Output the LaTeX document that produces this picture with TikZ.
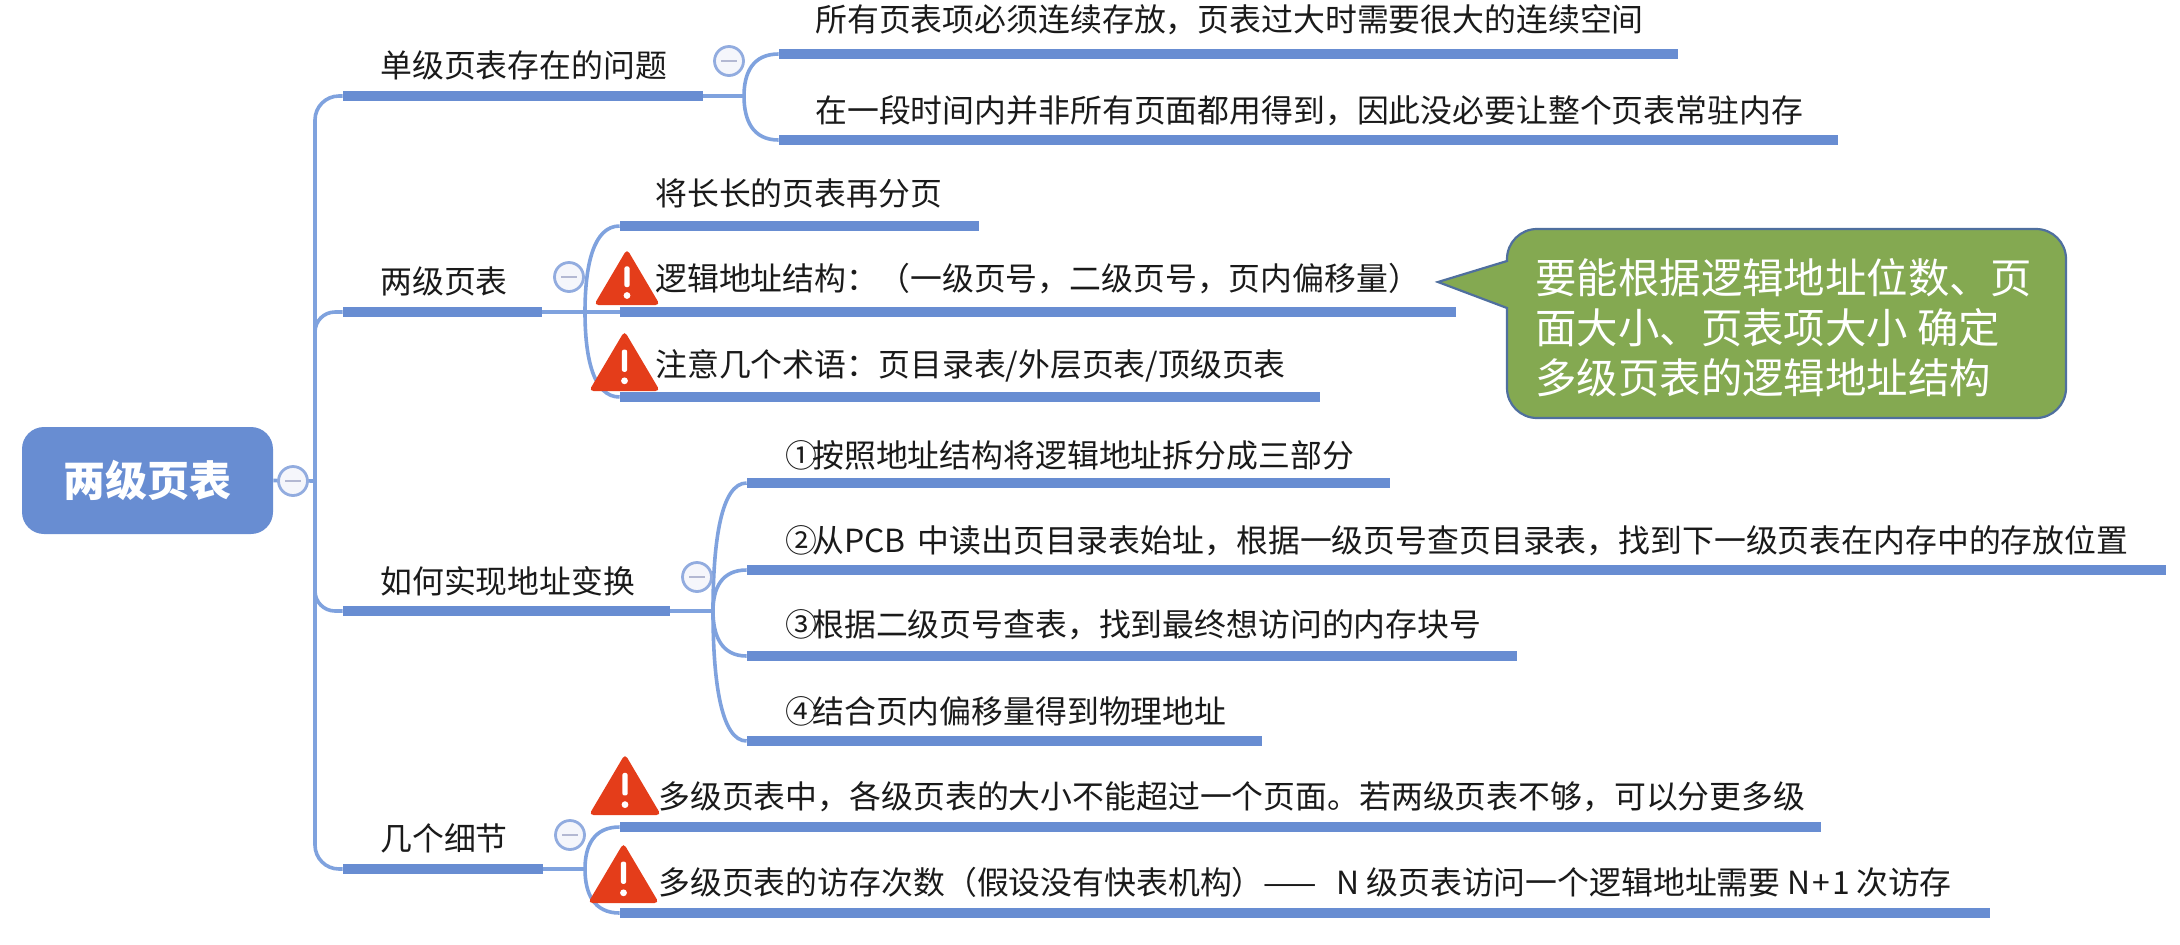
\documentclass[tikz,border=0pt]{standalone}
\usepackage{fontspec}
\usetikzlibrary{calc}
\setmainfont{Noto Sans CJK SC}
\definecolor{barblue}{HTML}{688DD2}
\definecolor{linkblue}{HTML}{7FA2DE}
\definecolor{warnred}{HTML}{E43D1A}
\definecolor{calloutgreen}{HTML}{84A951}
\definecolor{calloutedge}{HTML}{4F6F9E}
\definecolor{textblack}{HTML}{1A1A1A}
\definecolor{minusfill}{HTML}{F5F6FB}
\definecolor{minusring}{HTML}{92ACDF}
\definecolor{minusbar}{HTML}{B3B8D2}
\tikzset{
  x=0.5pt,y=-0.5pt,
  barshape/.style={draw=none,fill=barblue,rectangle,inner sep=0pt,minimum height=4.7pt},
  lab/.style={anchor=west,inner sep=0pt,text=textblack,font=\fontsize{15.93}{18}\selectfont},
  link/.style={draw=linkblue,line width=1.8pt},
  toggle/.style={circle,draw=minusring,fill=minusfill,line width=1.4pt,minimum size=14.5pt,inner sep=0pt,
    path picture={\draw[minusbar,line width=1.4pt] ([xshift=-3.8pt]path picture bounding box.center)--([xshift=3.8pt]path picture bounding box.center);}},
  calltext/.style={anchor=west,inner sep=0pt,text=white,font=\fontsize{20.7}{24}\selectfont},
}
\newcommand{\barnode}[4]{\node[barshape,minimum width=#3*0.5pt-#2*0.5pt] (#1) at ({(#2+#3)/2},#4) {};}
\newcommand{\warnsign}[4]{% left right apexy basey
  \fill[warnred,rounded corners=2.2pt] (#1,#4) -- ({(#1+#2)/2},#3) -- (#2,#4) -- cycle;
  \fill[white,rounded corners=1pt] ({(#1+#2)/2-2.6},{#3+0.31*(#4-#3)}) rectangle ({(#1+#2)/2+2.6},{#3+0.68*(#4-#3)});
  \fill[white] ({(#1+#2)/2},{#3+0.83*(#4-#3)}) circle (1.7pt);
}
\begin{document}
\begin{tikzpicture}
\useasboundingbox (0,0) rectangle (2180,944);
% bars
\barnode{bA}{343}{703}{96}
\barnode{bB}{343}{542}{312}
\barnode{bC}{343}{670}{611}
\barnode{bD}{343}{543}{869}
\barnode{cAa}{779}{1678}{54}
\barnode{cAb}{779}{1838}{140}
\barnode{cBa}{620}{979}{226}
\barnode{cBb}{620}{1456}{312}
\barnode{cBc}{620}{1320}{397}
\barnode{cCa}{747}{1390}{483}
\barnode{cCb}{747}{2166}{570}
\barnode{cCc}{747}{1517}{656}
\barnode{cCd}{747}{1262}{741}
\barnode{cDa}{620}{1821}{827}
\barnode{cDb}{620}{1990}{913}
% root
\node[fill=barblue,rounded corners=11pt,minimum width=125.5pt,minimum height=53.5pt,inner sep=0pt,text=white,font=\fontsize{21}{25}\selectfont\bfseries] (root) at (147.5,480.5) {两级页表};
\coordinate (jtop) at (315,96);
\coordinate (jbot) at (315,869);
\coordinate (fA) at (744,96);
\coordinate (fB) at (585,312);
\coordinate (fC) at (713,611);
\coordinate (fD) at (585,869);
% trunk
\draw[link,rounded corners=12pt] (bA.west) -- (jtop) -- (jbot) -- (bD.west);
\draw[link] (root.east) -- (315,481);
\draw[link,rounded corners=10pt] (bB.west) -- (315,312) -- (315,340);
\draw[link,rounded corners=10pt] (bC.west) -- (315,611) -- (315,580);
% branch connectors
\draw[link] (bA.east) -- (fA);
\draw[link] (bB.east) -- (fB);
\draw[link] (bC.east) -- (fC);
\draw[link] (bD.east) -- (fD);
\foreach \f/\c in {fA/cAa,fA/cAb,fB/cBa,fB/cBc,fC/cCa,fC/cCb,fC/cCc,fC/cCd,fD/cDa,fD/cDb}{
  \draw[link] (\f) .. controls ($(\f)!0.55!(\f |- \c.west)$) and ($(\c.west)!0.75!(\f |- \c.west)$) .. (\c.west);
}
\draw[link] (fB) -- (cBb.west);
% toggles
\node[toggle] (tR) at (293,481) {};
\node[toggle] (tA) at (729,61) {};
\node[toggle] (tB) at (569,277) {};
\node[toggle] (tC) at (697,577) {};
\node[toggle] (tD) at (570,835) {};
% warnings
\warnsign{594}{660}{249}{305}
\warnsign{589}{660}{331}{391}
\warnsign{589}{661}{754}{815}
\warnsign{588}{659}{843}{903}
% labels
\node[lab] (lA) at (380,65) {单级页表存在的问题};
\node[lab] (lB) at (380,281) {两级页表};
\node[lab] (lC) at (380,581) {如何实现地址变换};
\node[lab] (lD) at (380,838) {几个细节};
\node[lab] (tAa) at (815,20) {所有页表项必须连续存放，页表过大时需要很大的连续空间};
\node[lab] (tAb) at (815,111) {在一段时间内并非所有页面都用得到，因此没必要让整个页表常驻内存};
\node[lab] (tBa) at (655,193) {将长长的页表再分页};
\node[lab] (tBb) at (655,279) {逻辑地址结构：（一级页号，二级页号，页内偏移量）};
\node[lab] (tBc) at (655,366) {注意几个术语：页目录表/外层页表/顶级页表};
\node[lab] (tCa) at (785,455) {①\kern-2.5pt 按照地址结构将逻辑地址拆分成三部分};
\node[lab] (tCb) at (785,541) {②\kern-2.5pt 从PCB\hspace{2.5pt} 中读出页目录表始址，根据一级页号查页目录表，找到下一级页表在内存中的存放位置};
\node[lab] (tCc) at (785,625) {③\kern-2.5pt 根据二级页号查表，找到最终想访问的内存块号};
\node[lab] (tCd) at (785,711) {④\kern-2.5pt 结合页内偏移量得到物理地址};
\node[lab] (tDa) at (658,797) {多级页表中，各级页表的大小不能超过一个页面。若两级页表不够，可以分更多级};
\node[lab] (tDb) at (658,882) {多级页表的访存次数（假设没有快表机构）——\hspace{6pt} N 级页表访问一个逻辑地址需要 N\kern1pt+\kern1pt1\kern3pt次访存};
% callout
\draw[fill=calloutgreen,draw=calloutedge,line width=1.1pt,rounded corners=0pt]
  (1438,282) -- (1507,261) -- (1507,259) arc[start angle=180,end angle=90,radius=15pt]
  -- (2036,229) arc[start angle=90,end angle=0,radius=15pt]
  -- (2066,388) arc[start angle=0,end angle=-90,radius=15pt]
  -- (1537,418) arc[start angle=-90,end angle=-180,radius=15pt]
  -- (1507,308) -- cycle;
\node[calltext] (ca) at (1535,278) {要能根据逻辑地址位数、页};
\node[calltext] (cb) at (1535,328) {面大小、页表项大小 确定};
\node[calltext] (cc) at (1535,378) {多级页表的逻辑地址结构};
\end{tikzpicture}
\end{document}
